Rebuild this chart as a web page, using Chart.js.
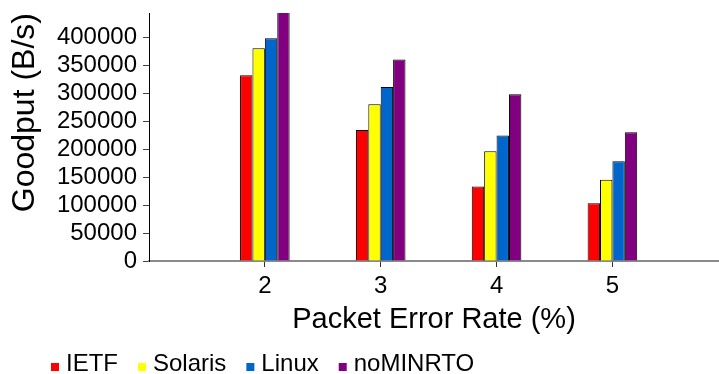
<!DOCTYPE html>
<html>
<head>
<meta charset="utf-8">
<title>Goodput vs Packet Error Rate</title>
<script src="https://cdn.jsdelivr.net/npm/chart.js@4/dist/chart.umd.min.js"></script>
<style>
  html, body { margin: 0; padding: 0; background: #fff; }
  canvas { display: block; }
</style>
</head>
<body>
<canvas id="chart" width="719" height="374"></canvas>
<script>
// Packet error rate (%) for each group of bars
const errorRates = [2, 3, 4, 5];

// Goodput (B/s) per RTO policy
const ietf     = [332000, 234000, 133000, 103000];
const solaris  = [380000, 280000, 196000, 145000];
const linux    = [398000, 311000, 224000, 178000];
const noMinRto = [445000, 360000, 298000, 230000];

const seriesNames = ['IETF', 'Solaris', 'Linux', 'noMINRTO'];
const yTickValues = [0, 50000, 100000, 150000, 200000, 250000, 300000, 350000, 400000];

const FONT = '"Liberation Sans", Arial, Helvetica, sans-serif';

const toPoints = vals => errorRates.map((r, i) => ({ x: r, y: vals[i] }));

// Legend row along the bottom: small square swatch sitting on the text baseline
const legendRow = {
  id: 'legendRow',
  afterDraw(chart) {
    const ctx = chart.ctx;
    ctx.save();
    ctx.font = '24px ' + FONT;
    ctx.textBaseline = 'alphabetic';
    ctx.textAlign = 'left';
    const base = 371;
    let x = 51;
    chart.data.datasets.forEach(ds => {
      ctx.fillStyle = ds.backgroundColor;
      ctx.fillRect(x, base - 8, 8, 8);
      ctx.fillStyle = '#000';
      ctx.fillText(ds.label, x + 15, base);
      x += 15 + ctx.measureText(ds.label).width + 20;
    });
    ctx.restore();
  }
};

const colors = ['#FF0000', '#FFFF00', '#0066CC', '#800080'];
const series = [ietf, solaris, linux, noMinRto];

new Chart(document.getElementById('chart'), {
  type: 'bar',
  data: {
    datasets: series.map((vals, i) => ({
      label: seriesNames[i],
      data: toPoints(vals),
      backgroundColor: colors[i],
      borderColor: '#000',
      borderWidth: 1,
      categoryPercentage: 0.428,
      barPercentage: 1
    }))
  },
  options: {
    responsive: false,
    animation: false,
    events: [],
    layout: { padding: { top: 13, right: 0, bottom: 36.6, left: 0 } },
    plugins: {
      legend: { display: false },
      tooltip: { enabled: false },
      title: { display: false }
    },
    scales: {
      x: {
        type: 'linear',
        offset: false,
        min: 1,
        max: 5.92,
        afterBuildTicks: s => { s.ticks = errorRates.map(v => ({ value: v })); },
        afterFit: s => {
          s.height = 76.4;
          s.paddingLeft = 0; s.paddingRight = 0;
        },
        ticks: {
          color: '#000',
          font: { family: FONT, size: 24 },
          padding: 5,
          maxRotation: 0,
          autoSkip: false,
          callback: v => String(v)
        },
        grid: {
          display: true,
          offset: false,
          drawOnChartArea: false,
          drawTicks: true,
          tickLength: 6,
          color: '#333'
        },
        border: { display: true, color: '#8a8a8a', width: 2 },
        title: {
          display: true,
          text: 'Packet Error Rate (%)',
          color: '#000',
          font: { family: FONT, size: 29, lineHeight: 1.2 },
          padding: { top: 0, bottom: 0 }
        }
      },
      y: {
        type: 'linear',
        min: 0,
        max: 443000,
        afterBuildTicks: s => { s.ticks = yTickValues.map(v => ({ value: v })); },
        afterFit: s => {
          s.width = 149;
          s.paddingTop = 0; s.paddingBottom = 0;
        },
        ticks: {
          color: '#000',
          font: { family: FONT, size: 24 },
          padding: 6,
          autoSkip: false,
          callback: v => String(v)
        },
        grid: {
          display: true,
          drawOnChartArea: false,
          drawTicks: true,
          tickLength: 6,
          color: '#444'
        },
        border: { display: true, color: '#000', width: 1 },
        title: {
          display: true,
          text: 'Goodput (B/s)',
          align: 'end',
          color: '#000',
          font: { family: FONT, size: 32, lineHeight: 1.2 },
          padding: { top: 6, bottom: 0 }
        }
      }
    }
  },
  plugins: [legendRow]
});
</script>
</body>
</html>
